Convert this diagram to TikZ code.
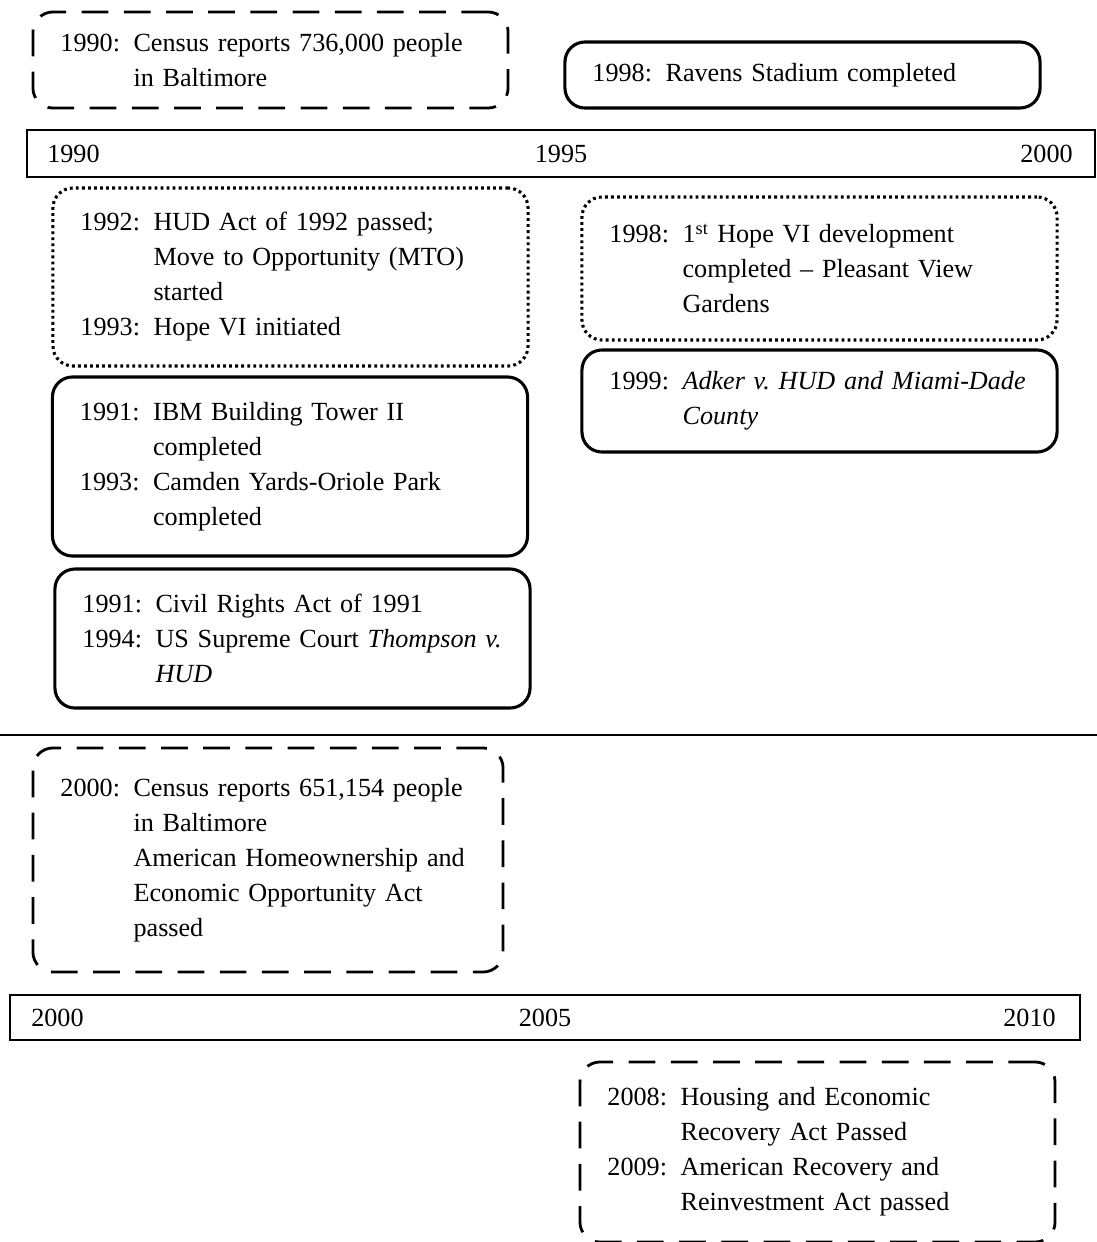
\documentclass[tikz,border=0pt]{standalone}
\usepackage{fontspec}
\setmainfont{Liberation Serif}
\usetikzlibrary{positioning}
\newlength{\yrw}
\setlength{\yrw}{52pt}
\newcommand{\yr}[1]{\makebox[\yrw][l]{#1:}}
\newcommand{\ind}{\hspace*{\yrw}}
\tikzset{evbox/.style={rounded corners=0.5cm,minimum width=11.875cm,text width=10.5cm,
inner xsep=0.6875cm,align=left,font=\fontsize{18.6}{24.9}\selectfont},
dashbox/.style={evbox,draw,line width=2pt,dash pattern=on 19pt off 11pt},
dotbox/.style={evbox,draw,line width=2.2pt,dash pattern=on 2pt off 2.3pt},
solidbox/.style={evbox,draw,line width=2.2pt},
axisbar/.style={draw,line width=1.2pt,inner sep=0pt},
yearlbl/.style={font=\fontsize{18.6}{18.6}\selectfont,inner sep=0pt}}

\begin{document}
\begin{tikzpicture}[x=0.025cm,y=-0.025cm]
\useasboundingbox (0,0) rectangle (1097,1242);

% 1990--2000
\node[axisbar,minimum width=26.7cm,minimum height=1.175cm] (tl1990) at (561,153.5) {};
\node[yearlbl,right=0.525cm of tl1990.west] (y1990) {1990};
\node[yearlbl] (y1995) at (tl1990.center) {1995};
\node[yearlbl,left=0.575cm of tl1990.east] (y2000a) {2000};

\begin{scope}
\node[dashbox,minimum height=2.4cm] (census90) at (270.5,60)
  {\yr{1990}Census reports 736,000 people\\\ind in Baltimore};
\node[solidbox,minimum height=1.65cm] (ravens) at (802.5,75)
  {\yr{1998}Ravens Stadium completed};
\node[dotbox,minimum height=4.45cm] (hudact) at (290.5,277)
  {\yr{1992}HUD Act of 1992 passed;\\\ind Move to Opportunity (MTO)\\\ind started\\\yr{1993}Hope VI initiated};
\node[solidbox,minimum height=4.475cm] (towers) at (290,466.5)
  {\yr{1991}IBM Building Tower II\\\ind completed\\\yr{1993}Camden Yards-Oriole Park\\\ind completed};
\node[solidbox,minimum height=3.475cm] (civilrights) at (292.5,638.5)
  {\yr{1991}Civil Rights Act of 1991\\\mbox{\yr{1994}US Supreme Court \textit{Thompson v.}}\\\ind\textit{HUD}};
\node[dotbox,minimum height=3.575cm] (hopevi) at (819.5,268.5)
  {\yr{1998}1\textsuperscript{st} Hope VI development\\\ind completed -- Pleasant View\\\ind Gardens};
\node[solidbox,minimum height=2.55cm] (adker) at (819.5,401)
  {\mbox{\yr{1999}\textit{Adker v.\ HUD and Miami-Dade}}\\\ind\textit{County}};
\end{scope}

\coordinate (sepL) at (0,735);
\coordinate (sepR) at (1097,735);
\draw[line width=1.2pt] (sepL) -- (sepR);

% 2000--2010
\node[dashbox,minimum width=11.75cm,text width=10.375cm,minimum height=5.6cm] (census00) at (268,860)
  {\yr{2000}Census reports 651,154 people\\\ind in Baltimore\\\ind American Homeownership and\\\ind Economic Opportunity Act\\\ind passed};

\node[axisbar,minimum width=26.75cm,minimum height=1.125cm] (tl2000) at (545,1017.5) {};
\node[yearlbl,right=0.55cm of tl2000.west] (y2000b) {2000};
\node[yearlbl] (y2005) at (tl2000.center) {2005};
\node[yearlbl,left=0.625cm of tl2000.east] (y2010) {2010};

\node[dashbox,minimum height=4.5cm] (recovery) at (817.5,1152)
  {\yr{2008}Housing and Economic\\\ind Recovery Act Passed\\\yr{2009}American Recovery and\\\ind Reinvestment Act passed};
%\node[dashbox] (extra) at (817.5,1300) {};

\end{tikzpicture}
\end{document}
